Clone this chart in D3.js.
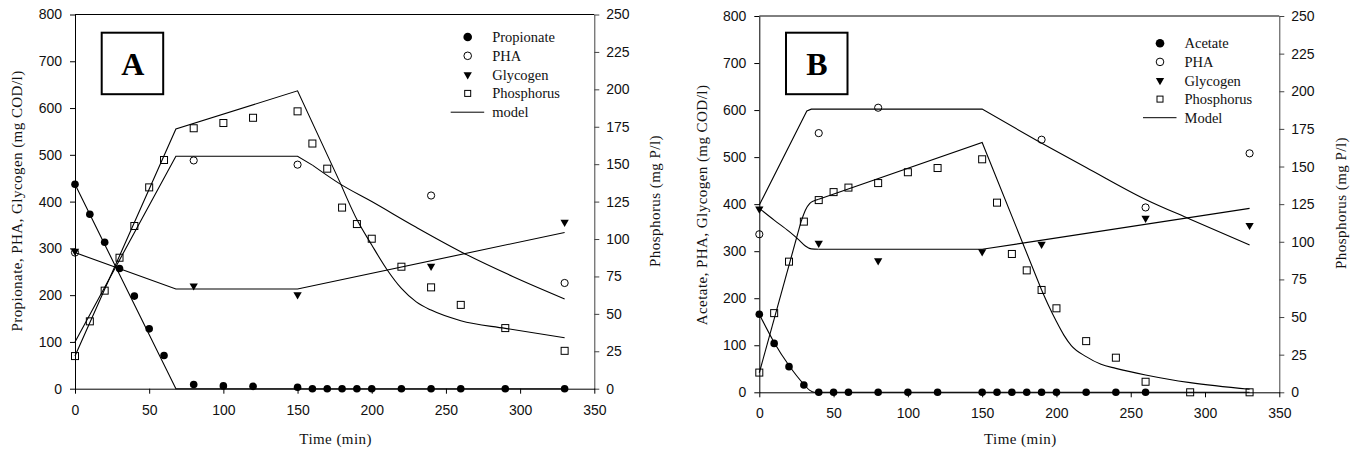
<!DOCTYPE html>
<html>
<head>
<meta charset="utf-8">
<script src="https://cdn.jsdelivr.net/npm/d3@7"></script>
<style>
body { margin: 0; background: #fff; }
.tick text { font-family: "Liberation Sans", Arial, sans-serif; font-size: 14px; fill: #111; }
.ttl { font-family: "Liberation Serif", "Times New Roman", serif; font-size: 15px; letter-spacing: 0.45px; font-weight: normal; fill: #111; }
.leg { font-family: "Liberation Serif", "Times New Roman", serif; font-size: 14.5px; fill: #111; }
.lbl { font-family: "Liberation Serif", "Times New Roman", serif; font-size: 32px; font-weight: bold; fill: #000; }
</style>
</head>
<body>
<svg id="viz" width="1361" height="454"></svg>
<script>
// ---- tick labels
var xTicks = [0, 50, 100, 150, 200, 250, 300, 350];
var leftTicks = [0, 100, 200, 300, 400, 500, 600, 700, 800];
var rightTicks = [0, 25, 50, 75, 100, 125, 150, 175, 200, 225, 250];

// ---- panel A (propionate), measured points
var tSubA = [0, 10, 20, 30, 40, 50, 60, 80, 100, 120, 150, 160, 170, 180, 190, 200, 220, 240, 260, 290, 330];
var propA = [437, 373, 313, 257, 198, 128, 71, 9, 6, 5, 3, 0, 0, 0, 0, 0, 0, 0, 0, 0, 0];
var tPhaA = [0, 80, 150, 240, 330];
var phaA = [291, 488, 479, 413, 226];
var tGlyA = [0, 80, 150, 240, 330];
var glyA = [294, 220, 201, 262, 356];
var tPA = [0, 10, 20, 30, 40, 50, 60, 80, 100, 120, 150, 160, 170, 180, 190, 200, 220, 240, 260, 290, 330];
var pA = [21.8, 45, 65.5, 87.5, 108.7, 134.5, 152.8, 174, 177.5, 181, 185.3, 163.8, 147, 121, 110, 100.2, 81.5, 67.7, 56, 40.5, 25.3];

// panel A model curves
var tPropModA = [0, 68, 330];
var propModA = [437, 0, 0];
var tPhaModA = [0, 68, 150, 160, 178, 200, 230, 260, 295, 330];
var phaModA = [100, 497, 497, 478, 439, 400, 345, 293, 240, 192];
var tGlyModA = [0, 68, 150, 330];
var glyModA = [291, 213, 213, 334];
var tPModA = [0, 68, 150, 179, 190, 200, 210, 220, 230, 240, 260, 290, 330];
var pModA = [21.8, 173.5, 199, 137, 113, 96, 80, 67, 58, 52.5, 45.4, 40.3, 34];

// ---- panel B (acetate), measured points
var tSubB = [0, 10, 20, 30, 40, 50, 60, 80, 100, 120, 150, 160, 170, 180, 190, 200, 220, 240, 260];
var acB = [166, 104, 54.5, 15.5, 0, 0, 0, 0, 0, 0, 0, 0, 0, 0, 0, 0, 0, 0, 0];
var tPhaB = [0, 40, 80, 190, 260, 330];
var phaB = [336, 551, 605, 537, 393, 508];
var tGlyB = [0, 40, 80, 150, 190, 260, 330];
var glyB = [390, 317, 280, 299, 315, 370, 355];
var tPB = [0, 10, 20, 30, 40, 50, 60, 80, 100, 120, 150, 160, 170, 180, 190, 200, 220, 240, 260, 290, 330];
var pB = [13.1, 52.6, 86.8, 113.4, 127.7, 133, 136, 139, 146.2, 149, 154.8, 126, 91.9, 81, 68, 55.8, 34, 23, 7, 0, 0];

// panel B model curves
var tAcModB = [0, 10, 20, 30, 34, 37, 330];
var acModB = [166, 106, 57, 17, 4, 0, 0];
var tPhaModB = [0, 32, 35, 150, 188, 220, 260, 290, 330];
var phaModB = [398, 598, 602, 602, 533, 478, 410, 368, 313];
var tGlyModB = [0, 10, 20, 27, 31, 35, 40, 150, 330];
var glyModB = [391, 366, 342, 323, 311, 305, 304, 304, 391];
var tPModB = [0, 28, 31, 34, 37, 40, 150, 190, 195, 200, 205, 210, 220, 230, 240, 260, 290, 330];
var pModB = [13, 113, 121, 125.5, 127.3, 128.3, 166, 68, 57, 47, 38, 31, 23.7, 18.6, 15.9, 11.5, 6.4, 2];

var svg = d3.select("#viz");

function zip(t, v) { return t.map(function(d, i) { return [d, v[i]]; }); }

function marks(g, x, y, pts, kind) {
  var sel = g.selectAll(null).data(pts).enter();
  if (kind == "fill") {
    sel.append("circle").attr("cx", d => x(d[0])).attr("cy", d => y(d[1])).attr("r", 3.8).attr("fill", "#000");
  } else if (kind == "open") {
    sel.append("circle").attr("cx", d => x(d[0])).attr("cy", d => y(d[1])).attr("r", 3.6)
      .attr("fill", "none").attr("stroke", "#000").attr("stroke-width", 1);
  } else if (kind == "tri") {
    sel.append("path").attr("d", d3.symbol(d3.symbolTriangle, 30))
      .attr("transform", d => "translate(" + x(d[0]) + "," + y(d[1]) + ") rotate(180)").attr("fill", "#000");
  } else {
    sel.append("rect").attr("x", d => x(d[0]) - 3.5).attr("y", d => y(d[1]) - 3.5)
      .attr("width", 7).attr("height", 7).attr("fill", "none").attr("stroke", "#000").attr("stroke-width", 1);
  }
}

// model line: straight pieces, except index ranges listed in smooth (drawn monotone)
function model(g, pts, x, y, smooth) {
  var isSmooth = function(i) { return smooth.some(r => i >= r[0] && i < r[1]); };
  var start = 0;
  for (var i = 1; i <= pts.length - 1; i++) {
    if (i == pts.length - 1 || isSmooth(i) != isSmooth(start)) {
      var curve = isSmooth(start) ? d3.curveMonotoneX : d3.curveLinear;
      var line = d3.line().x(d => x(d[0])).y(d => y(d[1])).curve(curve);
      g.append("path").datum(pts.slice(start, i + 1)).attr("d", line)
        .attr("fill", "none").attr("stroke", "#000").attr("stroke-width", 1.1);
      start = i;
    }
  }
}

function drawPanel(p) {
  var x = d3.scaleLinear().domain([0, 350]).range([p.left, p.right]);
  var yL = d3.scaleLinear().domain([0, 800]).range([p.bottom, p.top]);
  var yR = d3.scaleLinear().domain([0, 250]).range([p.bottom, p.top]);
  var g = svg.append("g");

  // frame top line
  g.append("line").attr("x1", p.left).attr("x2", p.right).attr("y1", p.top).attr("y2", p.top)
    .attr("stroke", "#000");

  g.append("g").attr("transform", "translate(" + p.left + ",0)")
    .call(d3.axisLeft(yL).tickValues(leftTicks).tickSize(5).tickPadding(8).tickSizeOuter(0));
  g.append("g").attr("transform", "translate(" + p.right + ",0)")
    .call(d3.axisRight(yR).tickValues(rightTicks).tickSize(5).tickPadding(7).tickSizeOuter(0))
    .selectAll("path,line").attr("stroke", "#444");
  g.append("g").attr("transform", "translate(0," + p.bottom + ")")
    .call(d3.axisBottom(x).tickValues(xTicks).tickSize(5).tickPadding(11).tickSizeOuter(0));

  // model lines
  p.modelsL.forEach(function(m) { model(g, m[0], x, yL, m[1]); });
  model(g, p.modelP[0], x, yR, p.modelP[1]);

  // measured points
  marks(g, x, yL, p.sub, "fill");
  marks(g, x, yL, p.pha, "open");
  marks(g, x, yL, p.gly, "tri");
  marks(g, x, yR, p.phos, "sq");

  // panel letter
  g.append("rect").attr("x", p.box[0]).attr("y", p.box[1]).attr("width", 61.5).attr("height", 61.5)
    .attr("fill", "none").attr("stroke", "#000").attr("stroke-width", 2);
  g.append("text").attr("class", "lbl").attr("x", p.box[0] + 31).attr("y", p.box[1] + 42)
    .attr("text-anchor", "middle").text(p.letter);

  // titles
  g.append("text").attr("class", "ttl").attr("x", (p.left + p.right) / 2 + 1).attr("y", 444)
    .attr("text-anchor", "middle").text("Time (min)");
  g.append("text").attr("class", "ttl").attr("text-anchor", "middle").attr("dominant-baseline", "central")
    .attr("transform", "translate(" + p.yTitleL[0] + "," + p.yTitleL[1] + ") rotate(-90)").text(p.leftTitle);
  g.append("text").attr("class", "ttl").attr("text-anchor", "middle").attr("dominant-baseline", "central")
    .attr("transform", "translate(" + p.yTitleR[0] + "," + p.yTitleR[1] + ") rotate(-90)").text("Phosphorus (mg P/l)");

  // legend
  var lx = p.leg[0], ly = p.leg[1], dy = p.leg[2];
  var lg = g.append("g");
  lg.append("circle").attr("cx", lx).attr("cy", ly).attr("r", 4.3).attr("fill", "#000");
  lg.append("circle").attr("cx", lx).attr("cy", ly + dy).attr("r", 3.8).attr("fill", "none").attr("stroke", "#000");
  lg.append("path").attr("d", d3.symbol(d3.symbolTriangle, 30))
    .attr("transform", "translate(" + lx + "," + (ly + 2 * dy) + ") rotate(180)");
  lg.append("rect").attr("x", lx - 3).attr("y", ly + 3 * dy - 3).attr("width", 6).attr("height", 6)
    .attr("fill", "none").attr("stroke", "#000");
  lg.append("line").attr("x1", lx - 17).attr("x2", lx + 16.5).attr("y1", ly + 4 * dy).attr("y2", ly + 4 * dy)
    .attr("stroke", "#000");
  p.legNames.forEach(function(n, i) {
    lg.append("text").attr("class", "leg").attr("x", lx + 24.5).attr("y", ly + i * dy)
      .attr("dominant-baseline", "central").text(n);
  });
}

drawPanel({
  left: 75, right: 594.3, top: 14.5, bottom: 388.7,
  sub: zip(tSubA, propA), pha: zip(tPhaA, phaA), gly: zip(tGlyA, glyA), phos: zip(tPA, pA),
  modelsL: [[zip(tPropModA, propModA), []], [zip(tPhaModA, phaModA), [[3, 9]]], [zip(tGlyModA, glyModA), []]],
  modelP: [zip(tPModA, pModA), [[3, 12]]],
  letter: "A", box: [101.7, 32.7],
  leftTitle: "Propionate, PHA, Glycogen (mg COD/l)", yTitleL: [17, 201], yTitleR: [655, 201],
  leg: [467.7, 37, 18.8], legNames: ["Propionate", "PHA", "Glycogen", "Phosphorus", "model"]
});

drawPanel({
  left: 759.3, right: 1279.3, top: 16, bottom: 392.3,
  sub: zip(tSubB, acB), pha: zip(tPhaB, phaB), gly: zip(tGlyB, glyB), phos: zip(tPB, pB),
  modelsL: [[zip(tAcModB, acModB), [[0, 6]]], [zip(tPhaModB, phaModB), [[4, 8]]], [zip(tGlyModB, glyModB), [[0, 6]]]],
  modelP: [zip(tPModB, pModB), [[1, 5], [7, 17]]],
  letter: "B", box: [786, 32.7],
  leftTitle: "Acetate, PHA, Glycogen (mg COD/l)", yTitleL: [702, 205], yTitleR: [1341, 203],
  leg: [1160, 43.3, 18.6], legNames: ["Acetate", "PHA", "Glycogen", "Phosphorus", "Model"]
});
</script>
</body>
</html>
